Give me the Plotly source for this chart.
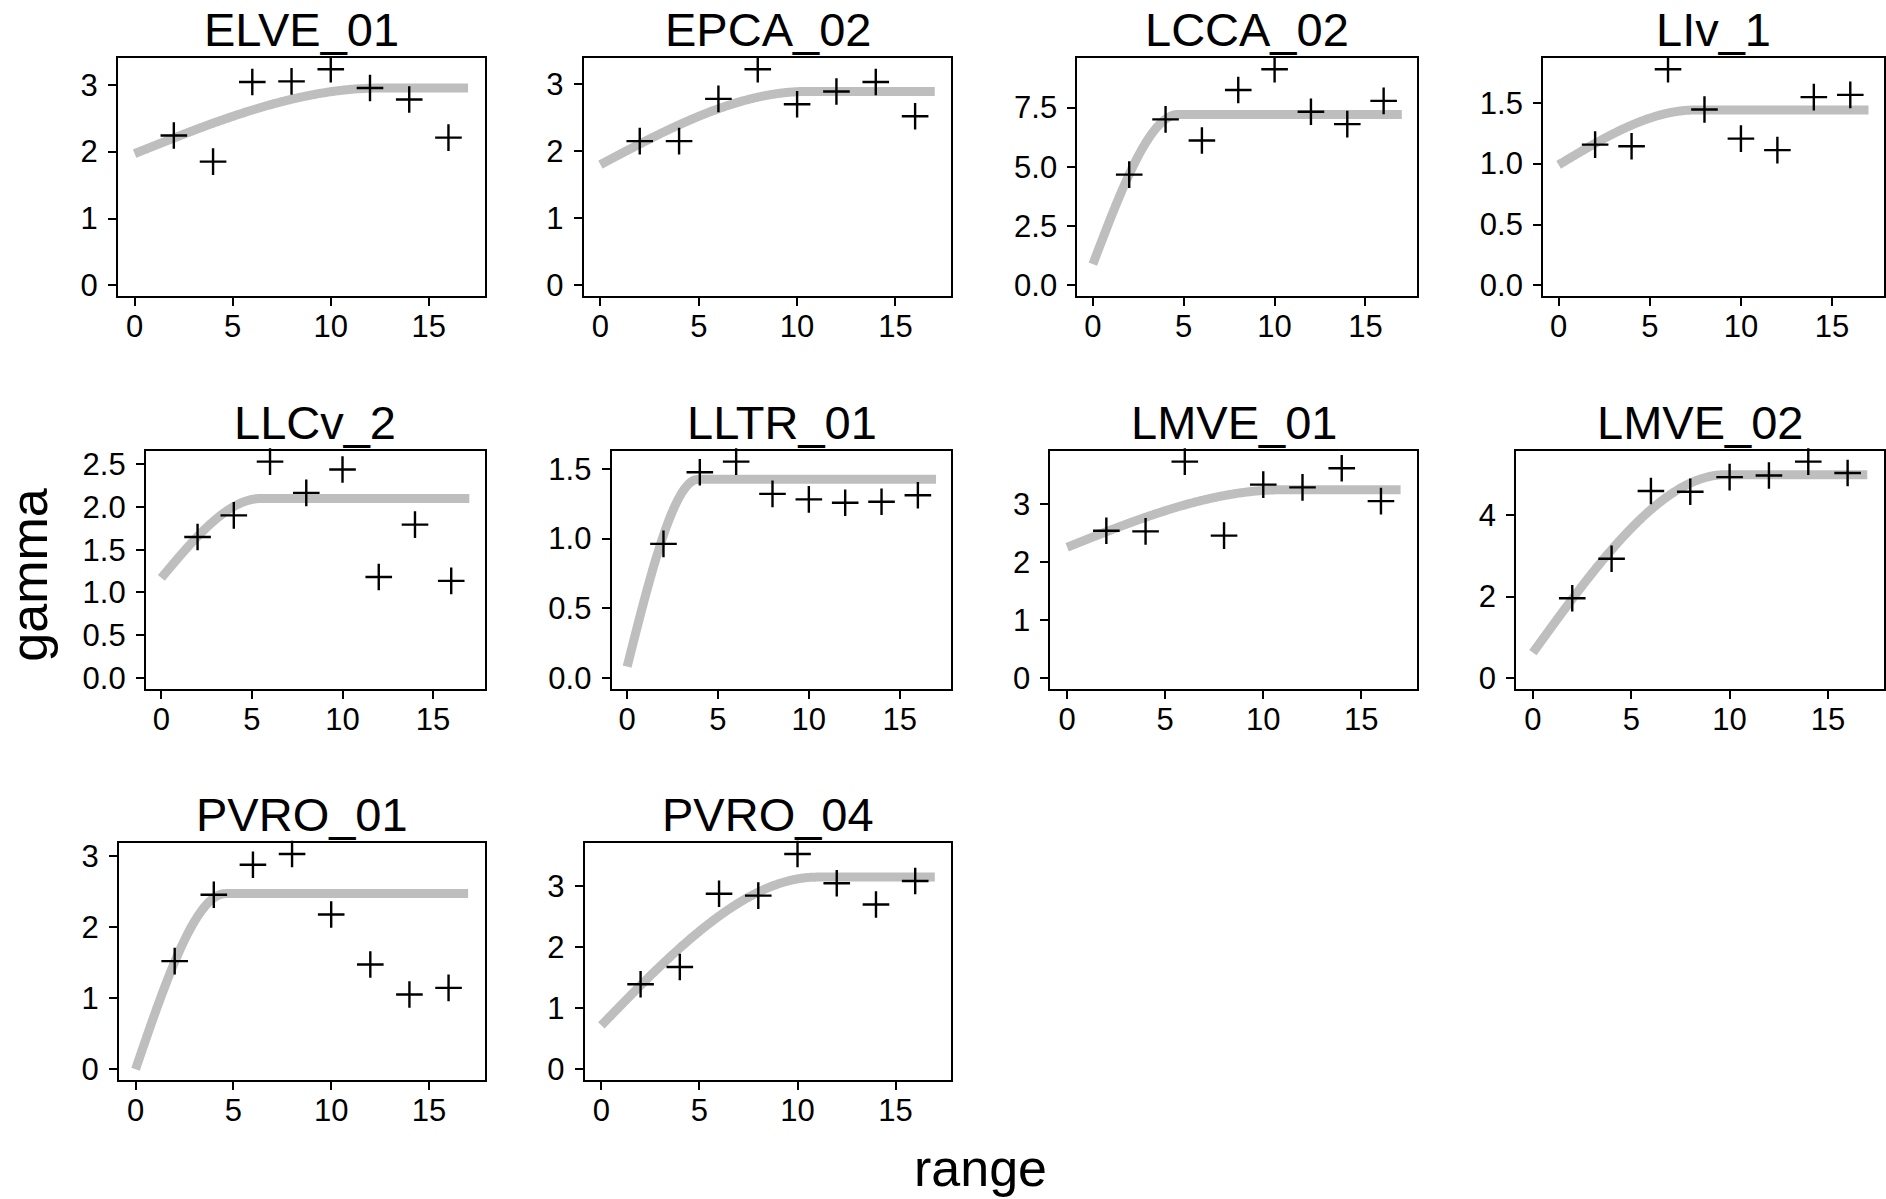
import numpy as np
import plotly.graph_objects as go

# ---------------- data ----------------
sites = ["ELVE_01", "EPCA_02", "LCCA_02", "LIv_1", "LLCv_2",
         "LLTR_01", "LMVE_01", "LMVE_02", "PVRO_01", "PVRO_04"]

lags = [2, 4, 6, 8, 10, 12, 14, 16]

gamma_ELVE_01 = [2.24, 1.85, 3.04, 3.05, 3.23, 2.95, 2.78, 2.21]
gamma_EPCA_02 = [2.15, 2.15, 2.78, 3.22, 2.70, 2.89, 3.03, 2.52]
gamma_LCCA_02 = [4.67, 7.00, 6.11, 8.24, 9.11, 7.32, 6.80, 7.78]
gamma_LIv_1 = [1.156, 1.143, 1.774, 1.444, 1.205, 1.111, 1.546, 1.564]
gamma_LLCv_2 = [1.649, 1.902, 2.531, 2.166, 2.439, 1.181, 1.794, 1.135]
gamma_LLTR_01 = [0.962, 1.476, 1.552, 1.321, 1.281, 1.257, 1.264, 1.311]
gamma_LMVE_01 = [2.535, 2.524, 3.724, 2.450, 3.328, 3.282, 3.611, 3.045]
gamma_LMVE_02 = [1.96, 2.93, 4.60, 4.58, 4.94, 4.98, 5.32, 5.04]
gamma_PVRO_01 = [1.520, 2.453, 2.876, 3.027, 2.177, 1.474, 1.052, 1.144]
gamma_PVRO_04 = [1.393, 1.676, 2.878, 2.846, 3.529, 3.049, 2.702, 3.086]

gammas = [gamma_ELVE_01, gamma_EPCA_02, gamma_LCCA_02, gamma_LIv_1, gamma_LLCv_2,
          gamma_LLTR_01, gamma_LMVE_01, gamma_LMVE_02, gamma_PVRO_01, gamma_PVRO_04]

# fitted spherical model parameters
nugget = [1.97, 1.80, 0.90, 0.99, 1.17, 0.08, 2.25, 0.62, 0.00, 0.72]
psill = [0.98, 1.09, 6.31, 0.45, 0.93, 1.345, 0.99, 4.38, 2.47, 2.43]
model_range = [12.5, 10.5, 4.7, 7.5, 5.5, 3.9, 11.0, 9.8, 4.6, 11.0]
model_maxdist = 17.0

x_tickvals = [0, 5, 10, 15]
y_dticks = [1, 1, 2.5, 0.5, 0.5, 0.5, 1, 2, 1, 1]

# ---------------- layout (pixel boxes of each panel) ----------------
W, H = 1886, 1199
boxes = [  # left, right, top, bottom in px
    (118, 485, 55, 295), (584, 952, 55, 295), (1078, 1418, 55, 295), (1544, 1885, 55, 295),
    (146, 485, 451, 691), (612, 952, 451, 691), (1051, 1418, 451, 691), (1517, 1885, 451, 691),
    (119, 485, 847, 1086), (585, 952, 847, 1086),
]

FONT = "Liberation Sans, Arial, Helvetica, sans-serif"
fig = go.Figure()
annotations = []


def spherical(h, n, s, a):
    h = np.asarray(h, dtype=float)
    r = np.where(h < a, 1.5 * h / a - 0.5 * (h / a) ** 3, 1.0)
    return n + s * r


for i, site in enumerate(sites):
    k = i + 1
    xa = "x" if k == 1 else f"x{k}"
    ya = "y" if k == 1 else f"y{k}"
    hh = np.linspace(0, model_maxdist, 400)
    model = spherical(hh, nugget[i], psill[i], model_range[i])
    fig.add_trace(go.Scatter(x=hh, y=model, mode="lines",
                             line=dict(color="#BEBEBE", width=9, simplify=False),
                             xaxis=xa, yaxis=ya, showlegend=False, hoverinfo="skip"))
    fig.add_trace(go.Scatter(x=lags, y=gammas[i], mode="markers",
                             marker=dict(symbol="cross-thin", size=19, color="black",
                                         line=dict(color="black", width=2.4)),
                             xaxis=xa, yaxis=ya, showlegend=False, cliponaxis=False))

    l, r, t, b = boxes[i]
    lo = min(0.0, min(gammas[i]), float(model.min()))
    hi = max(max(gammas[i]), float(model.max()))
    pad = 0.05 * (hi - lo)
    yr = [lo - pad, hi + pad]
    xr = [-0.05 * model_maxdist, model_maxdist * 1.05]
    dt = y_dticks[i]
    fmt = "d" if float(dt).is_integer() else ".1f"
    axcommon = dict(showline=True, mirror=True, linecolor="black", linewidth=2,
                    ticks="outside", ticklen=8, tickwidth=2, tickcolor="black",
                    showgrid=False, zeroline=False,
                    tickfont=dict(family=FONT, size=31, color="black"))
    fig.layout[("xaxis" if k == 1 else f"xaxis{k}")] = dict(
        domain=[l / W, r / W], anchor=ya, range=xr,
        tickmode="array", tickvals=x_tickvals, ticklabelstandoff=-6, **axcommon)
    fig.layout[("yaxis" if k == 1 else f"yaxis{k}")] = dict(
        domain=[1 - b / H, 1 - t / H], anchor=xa, range=yr,
        tick0=0, dtick=dt, tickformat=fmt, ticklabelstandoff=4, **axcommon)

    annotations.append(dict(text=site, x=(l + r) / 2 / W, y=1 - t / H,
                            xref="paper", yref="paper", xanchor="center", yanchor="bottom",
                            showarrow=False, font=dict(family=FONT, size=47, color="black")))

annotations.append(dict(text="range", x=981 / W, y=1 - 1175 / H, xref="paper", yref="paper",
                        xanchor="center", yanchor="middle", showarrow=False,
                        font=dict(family=FONT, size=52, color="black")))
annotations.append(dict(text="gamma", x=29 / W, y=1 - 576 / H, xref="paper", yref="paper",
                        xanchor="center", yanchor="middle", showarrow=False, textangle=-90,
                        font=dict(family=FONT, size=52, color="black")))

fig.update_layout(width=W, height=H, margin=dict(l=0, r=0, t=0, b=0),
                  paper_bgcolor="white", plot_bgcolor="white",
                  annotations=annotations, font=dict(family=FONT, color="black"))

fig.write_html("out.html", config={"displayModeBar": False},
               post_script="document.body.style.margin='0px';document.body.style.overflow='hidden';")
